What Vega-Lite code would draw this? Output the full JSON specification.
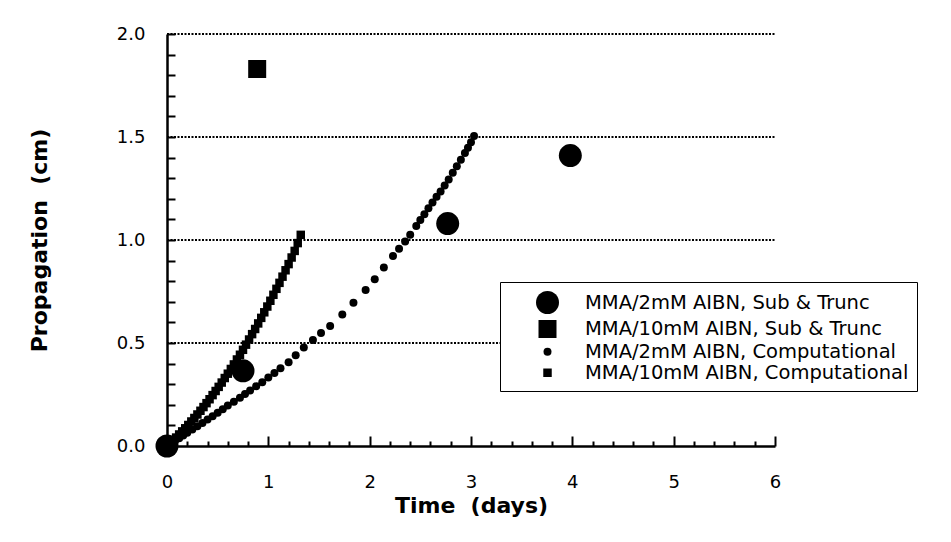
{
  "$schema": "https://vega.github.io/schema/vega-lite/v6.json",
  "width": 608,
  "height": 412,
  "autosize": {"type": "none"},
  "padding": {"left": 167, "top": 34, "right": 176, "bottom": 96},
  "background": "white",
  "config": {
    "view": {"stroke": null},
    "font": "DejaVu Sans",
    "axis": {"labelColor": "black", "titleColor": "black", "domainColor": "black", "tickColor": "black", "labelFont": "DejaVu Sans", "titleFont": "DejaVu Sans", "labelOverlap": false},
    "axisY": {
      "tickCount": 20,
      "labelExpr": "abs(datum.value * 2 - round(datum.value * 2)) < 0.001 ? format(datum.value, '.1f') : ''",
      "grid": false,
      "tickSize": -8, "tickWidth": 2,
      "domainWidth": 2.5,
      "labelFontSize": 18, "labelPadding": 30,
      "titleFontSize": 22, "titleFontWeight": "bold", "titlePadding": 65
    }
  },
  "datasets": {
    "gridlines": [{"g": 0.5}, {"g": 1}, {"g": 1.5}, {"g": 2}],
    "pts": [
      {"s": "MMA/2mM AIBN, Computational", "t": 0, "p": 0},
      {"s": "MMA/2mM AIBN, Computational", "t": 0.04, "p": 0.012},
      {"s": "MMA/2mM AIBN, Computational", "t": 0.08, "p": 0.025},
      {"s": "MMA/2mM AIBN, Computational", "t": 0.12, "p": 0.038},
      {"s": "MMA/2mM AIBN, Computational", "t": 0.16, "p": 0.051},
      {"s": "MMA/2mM AIBN, Computational", "t": 0.2, "p": 0.064},
      {"s": "MMA/2mM AIBN, Computational", "t": 0.25, "p": 0.08},
      {"s": "MMA/2mM AIBN, Computational", "t": 0.3, "p": 0.096},
      {"s": "MMA/2mM AIBN, Computational", "t": 0.35, "p": 0.112},
      {"s": "MMA/2mM AIBN, Computational", "t": 0.4, "p": 0.129},
      {"s": "MMA/2mM AIBN, Computational", "t": 0.45, "p": 0.145},
      {"s": "MMA/2mM AIBN, Computational", "t": 0.5, "p": 0.162},
      {"s": "MMA/2mM AIBN, Computational", "t": 0.55, "p": 0.179},
      {"s": "MMA/2mM AIBN, Computational", "t": 0.6, "p": 0.196},
      {"s": "MMA/2mM AIBN, Computational", "t": 0.66, "p": 0.215},
      {"s": "MMA/2mM AIBN, Computational", "t": 0.72, "p": 0.234},
      {"s": "MMA/2mM AIBN, Computational", "t": 0.77, "p": 0.252},
      {"s": "MMA/2mM AIBN, Computational", "t": 0.82, "p": 0.27},
      {"s": "MMA/2mM AIBN, Computational", "t": 0.88, "p": 0.29},
      {"s": "MMA/2mM AIBN, Computational", "t": 0.94, "p": 0.31},
      {"s": "MMA/2mM AIBN, Computational", "t": 1.0, "p": 0.332},
      {"s": "MMA/2mM AIBN, Computational", "t": 1.06, "p": 0.354},
      {"s": "MMA/2mM AIBN, Computational", "t": 1.12, "p": 0.377},
      {"s": "MMA/2mM AIBN, Computational", "t": 1.2, "p": 0.406},
      {"s": "MMA/2mM AIBN, Computational", "t": 1.27, "p": 0.44},
      {"s": "MMA/2mM AIBN, Computational", "t": 1.35, "p": 0.478},
      {"s": "MMA/2mM AIBN, Computational", "t": 1.44, "p": 0.515},
      {"s": "MMA/2mM AIBN, Computational", "t": 1.52, "p": 0.548},
      {"s": "MMA/2mM AIBN, Computational", "t": 1.61, "p": 0.582},
      {"s": "MMA/2mM AIBN, Computational", "t": 1.73, "p": 0.638},
      {"s": "MMA/2mM AIBN, Computational", "t": 1.84, "p": 0.695},
      {"s": "MMA/2mM AIBN, Computational", "t": 1.96, "p": 0.757},
      {"s": "MMA/2mM AIBN, Computational", "t": 2.05, "p": 0.81},
      {"s": "MMA/2mM AIBN, Computational", "t": 2.14, "p": 0.866},
      {"s": "MMA/2mM AIBN, Computational", "t": 2.23, "p": 0.922},
      {"s": "MMA/2mM AIBN, Computational", "t": 2.29, "p": 0.957},
      {"s": "MMA/2mM AIBN, Computational", "t": 2.35, "p": 0.993},
      {"s": "MMA/2mM AIBN, Computational", "t": 2.4, "p": 1.025},
      {"s": "MMA/2mM AIBN, Computational", "t": 2.46, "p": 1.068},
      {"s": "MMA/2mM AIBN, Computational", "t": 2.5, "p": 1.097},
      {"s": "MMA/2mM AIBN, Computational", "t": 2.54, "p": 1.125},
      {"s": "MMA/2mM AIBN, Computational", "t": 2.58, "p": 1.154},
      {"s": "MMA/2mM AIBN, Computational", "t": 2.62, "p": 1.182},
      {"s": "MMA/2mM AIBN, Computational", "t": 2.66, "p": 1.21},
      {"s": "MMA/2mM AIBN, Computational", "t": 2.7, "p": 1.236},
      {"s": "MMA/2mM AIBN, Computational", "t": 2.74, "p": 1.264},
      {"s": "MMA/2mM AIBN, Computational", "t": 2.78, "p": 1.294},
      {"s": "MMA/2mM AIBN, Computational", "t": 2.82, "p": 1.326},
      {"s": "MMA/2mM AIBN, Computational", "t": 2.86, "p": 1.358},
      {"s": "MMA/2mM AIBN, Computational", "t": 2.9, "p": 1.39},
      {"s": "MMA/2mM AIBN, Computational", "t": 2.94, "p": 1.422},
      {"s": "MMA/2mM AIBN, Computational", "t": 2.97, "p": 1.448},
      {"s": "MMA/2mM AIBN, Computational", "t": 3.0, "p": 1.475},
      {"s": "MMA/2mM AIBN, Computational", "t": 3.03, "p": 1.505},
      {"s": "MMA/10mM AIBN, Computational", "t": 0, "p": 0},
      {"s": "MMA/10mM AIBN, Computational", "t": 0.03, "p": 0.013},
      {"s": "MMA/10mM AIBN, Computational", "t": 0.06, "p": 0.027},
      {"s": "MMA/10mM AIBN, Computational", "t": 0.09, "p": 0.041},
      {"s": "MMA/10mM AIBN, Computational", "t": 0.12, "p": 0.056},
      {"s": "MMA/10mM AIBN, Computational", "t": 0.15, "p": 0.071},
      {"s": "MMA/10mM AIBN, Computational", "t": 0.18, "p": 0.086},
      {"s": "MMA/10mM AIBN, Computational", "t": 0.21, "p": 0.102},
      {"s": "MMA/10mM AIBN, Computational", "t": 0.24, "p": 0.119},
      {"s": "MMA/10mM AIBN, Computational", "t": 0.27, "p": 0.136},
      {"s": "MMA/10mM AIBN, Computational", "t": 0.3, "p": 0.153},
      {"s": "MMA/10mM AIBN, Computational", "t": 0.33, "p": 0.171},
      {"s": "MMA/10mM AIBN, Computational", "t": 0.36, "p": 0.189},
      {"s": "MMA/10mM AIBN, Computational", "t": 0.39, "p": 0.208},
      {"s": "MMA/10mM AIBN, Computational", "t": 0.42, "p": 0.227},
      {"s": "MMA/10mM AIBN, Computational", "t": 0.45, "p": 0.247},
      {"s": "MMA/10mM AIBN, Computational", "t": 0.48, "p": 0.267},
      {"s": "MMA/10mM AIBN, Computational", "t": 0.51, "p": 0.287},
      {"s": "MMA/10mM AIBN, Computational", "t": 0.54, "p": 0.308},
      {"s": "MMA/10mM AIBN, Computational", "t": 0.57, "p": 0.33},
      {"s": "MMA/10mM AIBN, Computational", "t": 0.6, "p": 0.351},
      {"s": "MMA/10mM AIBN, Computational", "t": 0.63, "p": 0.374},
      {"s": "MMA/10mM AIBN, Computational", "t": 0.66, "p": 0.396},
      {"s": "MMA/10mM AIBN, Computational", "t": 0.69, "p": 0.42},
      {"s": "MMA/10mM AIBN, Computational", "t": 0.72, "p": 0.443},
      {"s": "MMA/10mM AIBN, Computational", "t": 0.75, "p": 0.467},
      {"s": "MMA/10mM AIBN, Computational", "t": 0.78, "p": 0.492},
      {"s": "MMA/10mM AIBN, Computational", "t": 0.81, "p": 0.517},
      {"s": "MMA/10mM AIBN, Computational", "t": 0.84, "p": 0.543},
      {"s": "MMA/10mM AIBN, Computational", "t": 0.87, "p": 0.568},
      {"s": "MMA/10mM AIBN, Computational", "t": 0.9, "p": 0.595},
      {"s": "MMA/10mM AIBN, Computational", "t": 0.93, "p": 0.622},
      {"s": "MMA/10mM AIBN, Computational", "t": 0.96, "p": 0.649},
      {"s": "MMA/10mM AIBN, Computational", "t": 0.99, "p": 0.677},
      {"s": "MMA/10mM AIBN, Computational", "t": 1.02, "p": 0.705},
      {"s": "MMA/10mM AIBN, Computational", "t": 1.05, "p": 0.734},
      {"s": "MMA/10mM AIBN, Computational", "t": 1.08, "p": 0.763},
      {"s": "MMA/10mM AIBN, Computational", "t": 1.11, "p": 0.792},
      {"s": "MMA/10mM AIBN, Computational", "t": 1.14, "p": 0.822},
      {"s": "MMA/10mM AIBN, Computational", "t": 1.17, "p": 0.853},
      {"s": "MMA/10mM AIBN, Computational", "t": 1.2, "p": 0.883},
      {"s": "MMA/10mM AIBN, Computational", "t": 1.23, "p": 0.915},
      {"s": "MMA/10mM AIBN, Computational", "t": 1.26, "p": 0.947},
      {"s": "MMA/10mM AIBN, Computational", "t": 1.29, "p": 0.985},
      {"s": "MMA/10mM AIBN, Computational", "t": 1.32, "p": 1.025},
      {"s": "MMA/2mM AIBN, Sub & Trunc", "t": 0, "p": 0},
      {"s": "MMA/2mM AIBN, Sub & Trunc", "t": 0.75, "p": 0.365},
      {"s": "MMA/2mM AIBN, Sub & Trunc", "t": 2.77, "p": 1.08},
      {"s": "MMA/2mM AIBN, Sub & Trunc", "t": 3.98, "p": 1.41},
      {"s": "MMA/10mM AIBN, Sub & Trunc", "t": 0.89, "p": 1.83}
    ]
  },
  "layer": [
    {
      "data": {"name": "gridlines"},
      "mark": {"type": "rule", "color": "black", "strokeWidth": 2, "strokeDash": [2, 1.5]},
      "encoding": {
        "y": {
          "field": "g", "type": "quantitative",
          "scale": {"domain": [0, 2], "nice": false},
          "axis": {"title": "Propagation\u00a0 (cm)", "tickCount": 20, "labelOverlap": false}
        },
        "x": {
          "datum": 0, "type": "quantitative",
          "scale": {"domain": [0, 6]},
          "axis": {
            "orient": "bottom",
            "values": [0.2, 0.4, 0.6, 0.8, 1.2, 1.4, 1.6, 1.8, 2.2, 2.4, 2.6, 2.8, 3.2, 3.4, 3.6, 3.8, 4.2, 4.4, 4.6, 4.8, 5.2, 5.4, 5.6, 5.8],
            "labels": false, "domain": false, "grid": false, "title": null,
            "tickSize": -5, "tickWidth": 2
          }
        },
        "x2": {"datum": 6}
      }
    },
    {
      "data": {"name": "pts"},
      "mark": {"type": "point", "filled": true, "color": "black", "opacity": 1, "strokeWidth": 0},
      "encoding": {
        "x": {
          "field": "t", "type": "quantitative",
          "scale": {"domain": [0, 6]},
          "axis": {
            "orient": "bottom",
            "values": [0, 1, 2, 3, 4, 5, 6],
            "grid": false,
            "labelFlush": false,
            "labelOverlap": false,
            "tickSize": -10, "tickWidth": 2,
            "domainWidth": 2.5,
            "labelFontSize": 18, "labelPadding": 37,
            "title": "Time\u00a0 (days)",
            "titleFontSize": 22, "titleFontWeight": "bold", "titlePadding": 4
          }
        },
        "y": {"field": "p", "type": "quantitative", "axis": {"title": "Propagation\u00a0 (cm)", "tickCount": 20, "labelOverlap": false}},
        "shape": {
          "field": "s", "type": "nominal",
          "scale": {
            "domain": ["MMA/2mM AIBN, Sub & Trunc", "MMA/10mM AIBN, Sub & Trunc", "MMA/2mM AIBN, Computational", "MMA/10mM AIBN, Computational"],
            "range": ["circle", "square", "circle", "square"]
          },
          "legend": {
            "orient": "none", "legendX": 333, "legendY": 248,
            "title": null,
            "strokeColor": "black", "fillColor": "white",
            "padding": 8, "symbolOffset": 27, "labelOffset": 25,
            "labelFont": "DejaVu Sans", "labelFontSize": 19.5, "labelColor": "black", "labelLimit": 500,
            "symbolFillColor": "black", "symbolOpacity": 1,
            "rowPadding": 0
          }
        },
        "size": {
          "field": "s", "type": "nominal",
          "scale": {
            "type": "ordinal",
            "domain": ["MMA/2mM AIBN, Sub & Trunc", "MMA/10mM AIBN, Sub & Trunc", "MMA/2mM AIBN, Computational", "MMA/10mM AIBN, Computational"],
            "range": [529, 324, 64, 72]
          }
        }
      }
    }
  ],
  "resolve": {"axis": {"x": "independent"}}
}
